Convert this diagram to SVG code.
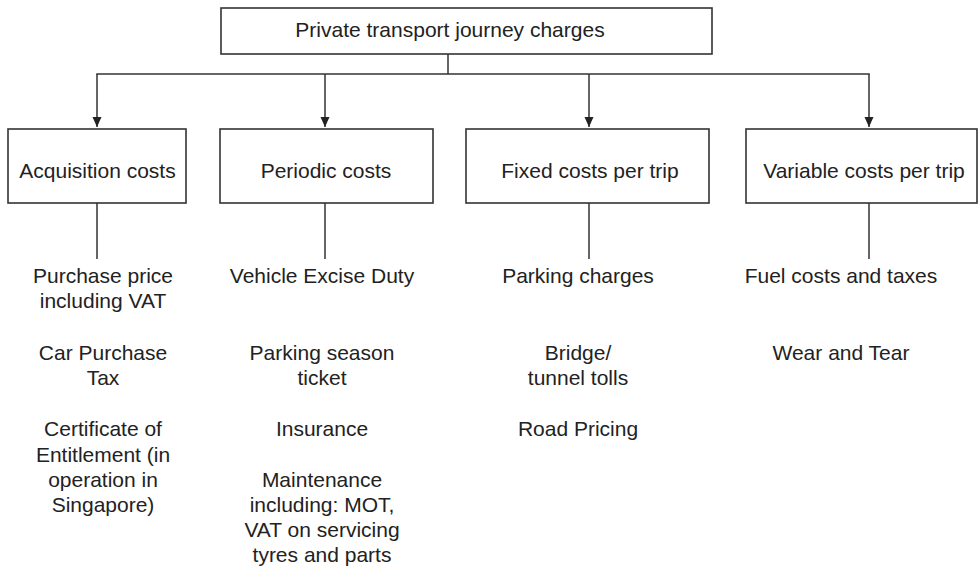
<svg xmlns="http://www.w3.org/2000/svg" width="980" height="570" viewBox="0 0 980 570">
<defs>
<style>
.box{fill:#fff;stroke:#333;stroke-width:1.6}
.ln{fill:none;stroke:#333;stroke-width:1.5}
text{font-family:"Liberation Sans",Arial,Helvetica,sans-serif;font-size:21px;fill:#222;text-anchor:middle}
</style>
<marker id="ah" viewBox="0 0 10 10" refX="10" refY="5" markerWidth="10" markerHeight="10" markerUnits="userSpaceOnUse" orient="auto">
<path d="M0,0.5 L10,5 L0,9.5 Z" fill="#222"/>
</marker>
</defs>
<rect width="980" height="570" fill="#fff"/>
<g id="connectors">
<line class="ln" x1="448" y1="54" x2="448" y2="74"/>
<line class="ln" x1="96.3" y1="74" x2="869.7" y2="74"/>
<line class="ln" x1="97" y1="74" x2="97" y2="127" marker-end="url(#ah)"/>
<line class="ln" x1="325" y1="74" x2="325" y2="127" marker-end="url(#ah)"/>
<line class="ln" x1="589" y1="74" x2="589" y2="127" marker-end="url(#ah)"/>
<line class="ln" x1="869" y1="74" x2="869" y2="127" marker-end="url(#ah)"/>
<line class="ln" x1="97" y1="203" x2="97" y2="259"/>
<line class="ln" x1="325" y1="203" x2="325" y2="259"/>
<line class="ln" x1="589" y1="203" x2="589" y2="259"/>
<line class="ln" x1="869" y1="203" x2="869" y2="259"/>
</g>
<g id="root">
<rect class="box" x="221" y="8" width="491" height="46"/>
<text x="450" y="37">Private transport journey charges</text>
</g>
<g id="acquisition">
<rect class="box" x="8" y="129" width="178" height="74"/>
<text x="97.5" y="178">Acquisition costs</text>
</g>
<g id="periodic">
<rect class="box" x="220" y="129" width="213" height="74"/>
<text x="326" y="178">Periodic costs</text>
</g>
<g id="fixed">
<rect class="box" x="466" y="129" width="243" height="74"/>
<text x="590" y="178">Fixed costs per trip</text>
</g>
<g id="variable">
<rect class="box" x="746" y="129" width="231" height="74"/>
<text x="864" y="178">Variable costs per trip</text>
</g>
<g id="acquisition-items">
<text x="103" y="283">Purchase price</text>
<text x="103" y="308">including VAT</text>
<text x="103" y="360">Car Purchase</text>
<text x="103" y="385">Tax</text>
<text x="103" y="436">Certificate of</text>
<text x="103" y="462">Entitlement (in</text>
<text x="103" y="487">operation in</text>
<text x="103" y="512">Singapore)</text>
</g>
<g id="periodic-items">
<text x="322" y="283">Vehicle Excise Duty</text>
<text x="322" y="360">Parking season</text>
<text x="322" y="385">ticket</text>
<text x="322" y="436">Insurance</text>
<text x="322" y="487">Maintenance</text>
<text x="322" y="512">including: MOT,</text>
<text x="322" y="537">VAT on servicing</text>
<text x="322" y="562">tyres and parts</text>
</g>
<g id="fixed-items">
<text x="578" y="283">Parking charges</text>
<text x="578" y="360">Bridge/</text>
<text x="578" y="385">tunnel tolls</text>
<text x="578" y="436">Road Pricing</text>
</g>
<g id="variable-items">
<text x="841" y="283">Fuel costs and taxes</text>
<text x="841" y="360">Wear and Tear</text>
</g>
</svg>
